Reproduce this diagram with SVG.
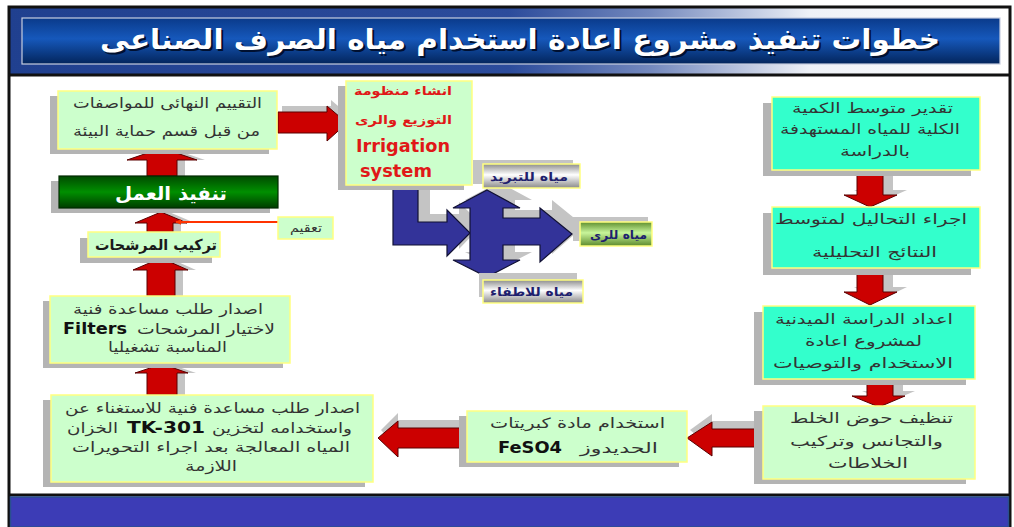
<svg xmlns="http://www.w3.org/2000/svg" width="1014" height="527" viewBox="0 0 1014 527">
  <defs>
    <linearGradient id="bandGrad" x1="0" y1="0" x2="1" y2="0">
      <stop offset="0" stop-color="#20408f"/>
      <stop offset="0.5" stop-color="#2c4c9c"/>
      <stop offset="0.64" stop-color="#7388bd"/>
      <stop offset="0.8" stop-color="#eef1f7"/>
      <stop offset="1" stop-color="#ffffff"/>
    </linearGradient>
    <linearGradient id="titleGrad" x1="0" y1="0" x2="0" y2="1">
      <stop offset="0" stop-color="#0a3a8a"/>
      <stop offset="0.45" stop-color="#1658bb"/>
      <stop offset="1" stop-color="#03255c"/>
    </linearGradient>
    <linearGradient id="greenGrad" x1="0" y1="0" x2="0" y2="1">
      <stop offset="0" stop-color="#004a00"/>
      <stop offset="0.5" stop-color="#008f00"/>
      <stop offset="1" stop-color="#003c00"/>
    </linearGradient>
    <linearGradient id="metalGrad" x1="0" y1="0" x2="0" y2="1">
      <stop offset="0" stop-color="#8c8c8c"/>
      <stop offset="0.45" stop-color="#ffffff"/>
      <stop offset="1" stop-color="#8a8a8a"/>
    </linearGradient>
    <linearGradient id="leafGrad" x1="0" y1="0" x2="0" y2="1">
      <stop offset="0" stop-color="#5f8f2f"/>
      <stop offset="0.45" stop-color="#c8f59a"/>
      <stop offset="1" stop-color="#5c8a2c"/>
    </linearGradient>
    <marker id="thinHead" viewBox="0 0 10 10" refX="9" refY="5" markerWidth="6" markerHeight="6" orient="auto-start-reverse" markerUnits="userSpaceOnUse">
      <path d="M0,0 L10,5 L0,10 z" fill="#ff3300"/>
    </marker>
    <style>
      .box { fill: #ccffcc; stroke: #ffff80; stroke-width: 1.5; }
      .cyan { fill: #33ffcc; stroke: #ffff80; stroke-width: 1.5; }
      .sh { fill: #b4b4b4; }
      .ash { fill: #c4c4c4; }
      .red { fill: #cc0000; stroke: #5a0000; stroke-width: 1; stroke-linejoin: miter; }
      .blue { fill: #333399; stroke: #111133; stroke-width: 1.2; }
      .ar { font-family: "DejaVu Sans", sans-serif; font-size: 14px; fill: #333333; text-anchor: middle; }
      .arb { font-family: "DejaVu Sans", sans-serif; font-size: 15px; font-weight: bold; fill: #1a1a1a; text-anchor: middle; }
      .lat { font-family: "DejaVu Sans", "Liberation Sans", sans-serif; font-weight: bold; fill: #111111; text-anchor: middle; }
      .red-t { font-family: "DejaVu Sans", sans-serif; font-weight: bold; fill: #e01818; text-anchor: middle; }
      .lbl { font-family: "DejaVu Sans", sans-serif; font-size: 12px; font-weight: bold; fill: #1f1f6e; text-anchor: middle; }
    </style>
  </defs>

  <!-- page frame -->
  <rect x="0" y="0" width="1014" height="527" fill="#ffffff"/>
  <rect x="8" y="8" width="1002" height="66" fill="url(#bandGrad)"/>
  <rect x="9" y="7" width="1001" height="520" fill="none" stroke="#111111" stroke-width="3"/>
  <line x1="8" y1="75" x2="1011" y2="75" stroke="#111111" stroke-width="3"/>
  <line x1="8" y1="495" x2="1011" y2="495" stroke="#111111" stroke-width="3"/>
  <rect x="10.5" y="497" width="998" height="30" fill="#3c3cb6" stroke="#2a4f8f" stroke-width="1.5"/>

  <!-- title -->
  <g id="title">
    <rect x="22" y="18" width="978" height="46" fill="url(#titleGrad)" stroke="#c6cde0" stroke-width="1.2"/>
    <text x="522" y="51" font-family="DejaVu Sans, sans-serif" font-size="28" font-weight="bold" fill="#001030" text-anchor="middle" textLength="840" lengthAdjust="spacingAndGlyphs">خطوات تنفيذ مشروع اعادة استخدام مياه الصرف الصناعى</text>
    <text x="520" y="49" font-family="DejaVu Sans, sans-serif" font-size="28" font-weight="bold" fill="#ffffff" text-anchor="middle" textLength="840" lengthAdjust="spacingAndGlyphs">خطوات تنفيذ مشروع اعادة استخدام مياه الصرف الصناعى</text>
  </g>

  <!-- connectors -->
  <g id="connectors">
    <!-- left column, upward arrows -->
    <polygon class="ash" points="155,176 155,160 135,160 170,148 205,160 185,160 185,176"/>
    <polygon class="red" points="147,176 147,160 127,160 162,148 197,160 177,160 177,176"/>
    <polygon class="ash" points="155,232 155,223 143,223 169,212 195,223 181,223 181,232"/>
    <polygon class="red" points="147,232 147,223 135,223 161,212 187,223 173,223 173,232"/>
    <polygon class="ash" points="155,296 155,270 141,270 169,258 196,270 183,270 183,296"/>
    <polygon class="red" points="147,296 147,270 133,270 161,258 188,270 175,270 175,296"/>
    <polygon class="ash" points="155,395 155,373 143,373 170,364 196,373 185,373 185,395"/>
    <polygon class="red" points="147,395 147,373 135,373 162,364 188,373 177,373 177,395"/>

    <!-- disinfection feed -->
    <line x1="278" y1="222" x2="176" y2="222" stroke="#ff3300" stroke-width="2" marker-end="url(#thinHead)"/>

    <!-- right column, downward arrows -->
    <polygon class="ash" points="867,165 893,165 893,190 907,190 880,202 854,190 867,190"/>
    <polygon class="red" points="857,170 883,170 883,195 897,195 870,207 844,195 857,195"/>
    <polygon class="ash" points="867,263 893,263 893,287 907,287 880,300 854,287 867,287"/>
    <polygon class="red" points="857,268 883,268 883,292 897,292 870,305 844,292 857,292"/>
    <polygon class="ash" points="877,374 903,374 903,391 915,391 889,402 862,391 877,391"/>
    <polygon class="red" points="867,379 893,379 893,396 905,396 879,407 852,396 867,396"/>

    <!-- bottom row, leftward arrows -->
    <polygon class="ash" points="763,421 712,421 712,414 690,430 712,448 712,439 763,439"/>
    <polygon class="red" points="763,429 712,429 712,422 687,438 712,456 712,447 763,447"/>
    <polygon class="ash" points="467,420 398,420 398,413 381,430 398,449 398,440 467,440"/>
    <polygon class="red" points="467,428 398,428 398,421 378,438 398,457 398,448 467,448"/>

    <!-- to the distribution system -->
    <polygon class="ash" points="282,106 331,106 331,100 351,117 331,135 331,127 282,127"/>
    <polygon class="red" points="278,112 327,112 327,106 347,123 327,141 327,133 278,133"/>

    <!-- water distribution arrows -->
    <polygon class="ash" points="405,177 430,177 430,214 459,214 459,202 482,225 459,249 459,237 405,237"/>
    <polygon class="blue" points="393,185 418,185 418,222 447,222 447,210 470,233 447,256 447,245 393,245"/>
    <polygon class="ash" points="499,182 532,200 515,200 515,210 552,210 552,200 584,226 552,254 552,237 515,237 515,252 532,252 499,269 465,252 482,252 482,200 465,200"/>
    <polygon class="blue" points="487,190 520,208 503,208 503,218 540,218 540,208 572,234 540,262 540,245 503,245 503,260 520,260 487,277 453,260 470,260 470,208 453,208"/>
  </g>

  <!-- left column -->
  <g id="node-final-assessment">
    <rect class="sh" x="50" y="96" width="219" height="58"/>
    <rect class="box" x="58" y="91" width="219" height="58"/>
    <text class="ar" x="167.5" y="108" textLength="189" lengthAdjust="spacingAndGlyphs">التقييم النهائى للمواصفات</text>
    <text class="ar" x="166.5" y="136" textLength="187" lengthAdjust="spacingAndGlyphs">من قبل قسم حماية البيئة</text>
  </g>

  <g id="node-execution">
    <rect class="sh" x="51" y="181" width="219" height="32"/>
    <rect x="59" y="176" width="219" height="32" fill="url(#greenGrad)" stroke="#002a00" stroke-width="1.2"/>
    <text x="171" y="200" font-family="DejaVu Sans, sans-serif" font-size="19" font-weight="bold" fill="#ffffff" text-anchor="middle" textLength="112" lengthAdjust="spacingAndGlyphs">تنفيذ العمل</text>
  </g>

  <g id="node-disinfection">
    <rect class="box" x="278" y="217" width="55" height="22"/>
    <text x="306" y="232" font-family="DejaVu Sans, sans-serif" font-size="12" fill="#333333" text-anchor="middle" textLength="32" lengthAdjust="spacingAndGlyphs">تعقيم</text>
  </g>

  <g id="node-filter-install">
    <rect class="sh" x="80" y="238" width="132" height="25"/>
    <rect class="box" x="88" y="232" width="132" height="25"/>
    <text class="arb" x="156" y="250" textLength="122" lengthAdjust="spacingAndGlyphs">تركيب المرشحات</text>
  </g>

  <g id="node-filter-request">
    <rect class="sh" x="43" y="301" width="240" height="67"/>
    <rect class="box" x="50" y="296" width="240" height="67"/>
    <text class="ar" x="168" y="314" textLength="190" lengthAdjust="spacingAndGlyphs">اصدار طلب مساعدة فنية</text>
    <text class="ar" x="206" y="334" textLength="138" lengthAdjust="spacingAndGlyphs">لاختيار المرشحات</text>
    <text class="lat" x="95" y="334" font-size="15" textLength="64" lengthAdjust="spacingAndGlyphs">Filters</text>
    <text class="ar" x="167.5" y="352" textLength="119" lengthAdjust="spacingAndGlyphs">المناسبة تشغيليا</text>
  </g>

  <g id="node-tank-request">
    <rect class="sh" x="43" y="400" width="322" height="87"/>
    <rect class="box" x="51" y="395" width="322" height="87"/>
    <text class="ar" x="212.5" y="413" textLength="295" lengthAdjust="spacingAndGlyphs">اصدار طلب مساعدة فنية للاستغناء عن</text>
    <text class="ar" x="92.5" y="433" textLength="51" lengthAdjust="spacingAndGlyphs">الخزان</text>
    <text class="lat" x="166" y="433" font-size="15" textLength="78" lengthAdjust="spacingAndGlyphs">TK-301</text>
    <text class="ar" x="282" y="433" textLength="140" lengthAdjust="spacingAndGlyphs">واستخدامه لتخزين</text>
    <text class="ar" x="211" y="452" textLength="278" lengthAdjust="spacingAndGlyphs">المياه المعالجة بعد اجراء التحويرات</text>
    <text class="ar" x="211" y="471" textLength="52" lengthAdjust="spacingAndGlyphs">اللازمة</text>
  </g>

  <!-- distribution system -->
  <g id="node-irrigation">
    <rect class="sh" x="338" y="86" width="126" height="104"/>
    <rect class="box" x="346" y="81" width="126" height="104"/>
    <text class="red-t" x="403" y="95" font-size="12" textLength="98" lengthAdjust="spacingAndGlyphs">انشاء منظومة</text>
    <text class="red-t" x="403.5" y="124" font-size="12" textLength="97" lengthAdjust="spacingAndGlyphs">التوزيع والرى</text>
    <text class="red-t" x="403" y="152" font-size="17" textLength="94" lengthAdjust="spacingAndGlyphs">Irrigation</text>
    <text class="red-t" x="396" y="177" font-size="17" textLength="72" lengthAdjust="spacingAndGlyphs">system</text>
  </g>

  <g id="node-cooling">
    <rect class="ash" x="473" y="160" width="100" height="24"/>
    <rect x="483" y="164" width="97" height="24" fill="url(#metalGrad)" stroke="#ffff80" stroke-width="1.5"/>
    <text class="lbl" x="529" y="181" textLength="78" lengthAdjust="spacingAndGlyphs">مياه للتبريد</text>
  </g>

  <g id="node-irrigation-water">
    <rect class="ash" x="573" y="217" width="75" height="24"/>
    <rect x="580" y="222" width="72" height="24" fill="url(#leafGrad)" stroke="#ffff80" stroke-width="1.5"/>
    <text class="lbl" x="618.5" y="239" textLength="57" lengthAdjust="spacingAndGlyphs">مياه للرى</text>
  </g>

  <g id="node-firefighting">
    <rect class="ash" x="479" y="273" width="98" height="24"/>
    <rect x="483" y="280" width="100" height="23" fill="url(#metalGrad)" stroke="#ffff80" stroke-width="1.5"/>
    <text class="lbl" x="531.5" y="296" textLength="83" lengthAdjust="spacingAndGlyphs">مياه للاطفاء</text>
  </g>

  <!-- bottom middle -->
  <g id="node-ferrous-sulfate">
    <rect class="sh" x="459" y="416" width="220" height="51"/>
    <rect class="box" x="467" y="411" width="220" height="51"/>
    <text class="ar" x="577.5" y="428" textLength="175" lengthAdjust="spacingAndGlyphs">استخدام مادة كبريتات</text>
    <text class="ar" x="619" y="453" textLength="78" lengthAdjust="spacingAndGlyphs">الحديدوز</text>
    <text class="lat" x="530" y="453" font-size="16" textLength="64" lengthAdjust="spacingAndGlyphs">FeSO4</text>
  </g>

  <!-- right column -->
  <g id="node-quantity">
    <rect class="sh" x="763" y="103" width="208" height="73"/>
    <rect class="cyan" x="772" y="97" width="208" height="73"/>
    <text class="ar" x="872.5" y="113" textLength="161" lengthAdjust="spacingAndGlyphs">تقدير متوسط الكمية</text>
    <text class="ar" x="870" y="134" textLength="180" lengthAdjust="spacingAndGlyphs">الكلية للمياه المستهدفة</text>
    <text class="ar" x="875" y="156" textLength="70" lengthAdjust="spacingAndGlyphs">بالدراسة</text>
  </g>

  <g id="node-analysis">
    <rect class="sh" x="763" y="213" width="208" height="62"/>
    <rect class="cyan" x="772" y="207" width="208" height="61"/>
    <text class="ar" x="871" y="224" textLength="192" lengthAdjust="spacingAndGlyphs">اجراء التحاليل لمتوسط</text>
    <text class="ar" x="874.5" y="257" textLength="125" lengthAdjust="spacingAndGlyphs">النتائج التحليلية</text>
  </g>

  <g id="node-field-study">
    <rect class="sh" x="754" y="312" width="212" height="73"/>
    <rect class="cyan" x="763" y="306" width="212" height="73"/>
    <text class="ar" x="864" y="324" textLength="178" lengthAdjust="spacingAndGlyphs">اعداد الدراسة الميدنية</text>
    <text class="ar" x="863.5" y="346" textLength="117" lengthAdjust="spacingAndGlyphs">لمشروع اعادة</text>
    <text class="ar" x="863" y="368" textLength="180" lengthAdjust="spacingAndGlyphs">الاستخدام والتوصيات</text>
  </g>

  <g id="node-mixing-basin">
    <rect class="sh" x="754" y="411" width="212" height="73"/>
    <rect class="box" x="763" y="406" width="212" height="73"/>
    <text class="ar" x="871.5" y="423" textLength="163" lengthAdjust="spacingAndGlyphs">تنظيف حوض الخلط</text>
    <text class="ar" x="866.5" y="446" textLength="153" lengthAdjust="spacingAndGlyphs">والتجانس وتركيب</text>
    <text class="ar" x="868" y="468" textLength="80" lengthAdjust="spacingAndGlyphs">الخلاطات</text>
  </g>
</svg>
